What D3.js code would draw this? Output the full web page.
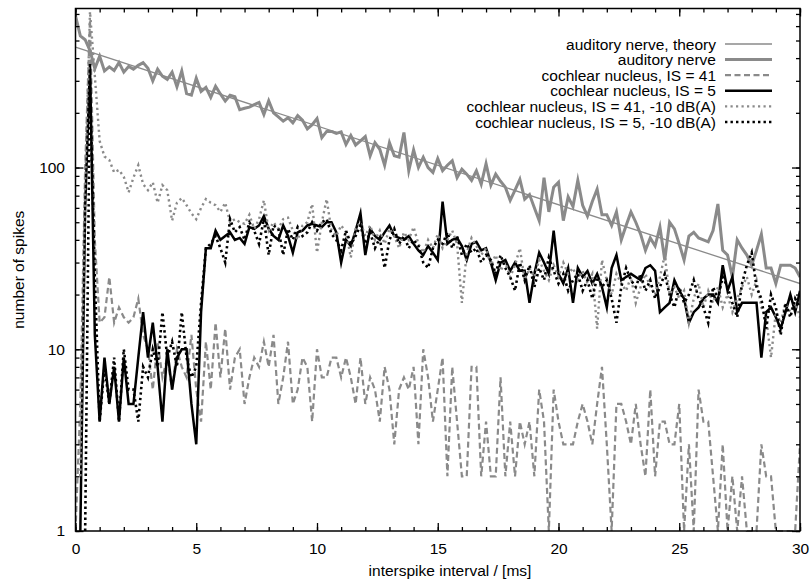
<!DOCTYPE html>
<html>
<head>
<meta charset="utf-8">
<script src="https://cdn.jsdelivr.net/npm/d3@7"></script>
<style>
  html, body { margin: 0; padding: 0; background: #fff; }
  svg { display: block; font-family: "Liberation Sans", Arial, Helvetica, sans-serif; }
</style>
</head>
<body>
<svg id="chart" width="810" height="580"></svg>
<script>
// Interspike-interval histograms, 0.2 ms bins starting at 0 ms (151 bins up to 30 ms).
const binWidthMs = 0.2;

// Exponential fit for the auditory nerve (straight on a log axis): end points.
const theoryT = [0, 30];
const theoryN = [460, 23];

const auditoryNerve = [
  684, 530, 505, 440, 350, 410, 340, 358, 342, 378,
  335, 360, 348, 365, 378, 352, 300, 348, 318, 305,
  335, 278, 340, 255, 250, 310, 262, 276, 243, 280,
  254, 232, 250, 245, 208, 212, 215, 222, 228, 196,
  233, 200, 190, 180, 188, 176, 193, 182, 163, 172,
  186, 146, 158, 158, 154, 157, 134, 150, 133, 140,
  148, 116, 137, 126, 103, 137, 116, 114, 156, 96,
  125, 100, 114, 100, 94, 112, 96, 103, 109, 88,
  98, 92, 85, 96, 81, 105, 80, 92, 84, 78,
  66, 75, 86, 67, 71, 60, 51, 88, 57, 78,
  83, 51, 69, 61, 85, 62, 54, 65, 76, 55,
  55, 48, 57, 40, 48, 57, 50, 43, 35, 41,
  37, 47, 31, 50, 46, 38, 31, 42, 44, 41,
  40, 39, 45, 63, 35, 33, 25, 40, 36, 33,
  29, 35, 43, 28, 28, 23, 29, 29, 29, 28,
  25
];

const cnIS41 = [
  1, 5, 100, 650, 40, 14, 15, 25, 14, 17,
  15, 14, 15, 19, 12, 10, 6, 11, 7, 9,
  6, 10, 8, 7, 12, 6, 4, 11, 6, 14,
  7, 13, 6, 9, 10, 5, 7, 9, 8, 11,
  8, 12, 5, 7, 11, 5, 6, 9, 8, 4,
  10, 7, 7, 9, 9, 7, 9, 7, 5, 9,
  5, 7, 6, 4, 8, 6, 3, 6, 7, 6,
  8, 3, 10, 7, 4, 6, 9, 2, 8, 4,
  2, 2, 8, 8, 2, 4, 2, 2, 7, 2,
  4, 2, 4, 3, 4, 2, 6, 4, 1, 6,
  4, 3, 3, 3, 4, 5, 4, 3, 5, 8,
  3, 1, 5, 5, 4, 3, 5, 3, 2, 6,
  2, 4, 4, 3, 3, 5, 1, 3, 1, 6,
  4, 4, 2, 1, 3, 1, 2, 1, 2, 1,
  1, 1, 3, 2, 2, 1, 1, 1, 1, 1,
  3
];

const cnIS5 = [
  0, 1, 60, 371, 12, 4, 9, 5, 8, 4,
  9, 5, 5, 9, 16, 9, 14, 8, 4, 10,
  6, 9, 10, 10, 5, 3, 16, 36, 36, 45,
  40, 42, 44, 40, 41, 38, 47, 46, 48, 54,
  46, 42, 40, 48, 42, 34, 44, 45, 48, 49,
  48, 47, 50, 50, 44, 30, 40, 37, 45, 56,
  33, 46, 42, 40, 44, 48, 42, 41, 40, 42,
  38, 35, 33, 37, 34, 31, 65, 38, 40, 41,
  37, 31, 38, 39, 35, 36, 30, 24, 30, 31,
  27, 30, 27, 27, 18, 26, 34, 30, 26, 45,
  26, 23, 28, 18, 28, 25, 27, 23, 26, 22,
  17, 28, 33, 24, 25, 26, 25, 24, 28, 29,
  27, 16, 17, 18, 24, 21, 19, 14, 16, 17,
  19, 20, 20, 18, 29, 21, 25, 16, 18, 18,
  18, 18, 9, 16, 17, 15, 13, 16, 20, 16,
  21
];

const cnIS41Minus10 = [
  0, 2, 80, 720, 320, 140, 115, 110, 94, 97,
  89, 73, 88, 103, 81, 75, 83, 64, 80, 75,
  51, 64, 68, 62, 56, 52, 60, 67, 64, 62,
  57, 64, 50, 52, 50, 49, 55, 46, 52, 66,
  45, 50, 46, 52, 53, 45, 40, 48, 50, 63,
  34, 50, 67, 45, 42, 48, 44, 32, 46, 50,
  42, 48, 40, 45, 38, 46, 42, 36, 44, 40,
  47, 38, 34, 40, 36, 43, 36, 40, 45, 38,
  18, 34, 41, 37, 33, 36, 29, 33, 27, 30,
  25, 29, 36, 24, 28, 25, 31, 27, 24, 29,
  25, 30, 26, 28, 24, 27, 23, 26, 13, 31,
  24, 20, 26, 23, 21, 25, 18, 22, 26, 22,
  20, 25, 33, 20, 22, 19, 21, 14, 19, 23,
  17, 21, 18, 22, 17, 20, 16, 19, 22, 25,
  20, 24, 17, 15, 9, 16, 14, 18, 16, 18,
  15
];

const cnIS5Minus10 = [
  0, 0, 1, 300, 25, 4, 8, 5, 9, 4,
  10, 6, 6, 4, 8, 7, 10, 8, 16, 9,
  11, 8, 16, 9, 7, 8, 18, 36, 38, 42,
  36, 30, 52, 44, 47, 40, 50, 45, 38, 52,
  33, 48, 46, 33, 46, 40, 47, 42, 44, 50,
  45, 50, 52, 43, 40, 35, 45, 38, 42, 48,
  38, 44, 36, 41, 28, 40, 46, 38, 42, 36,
  40, 37, 30, 28, 36, 40, 38, 44, 36, 42,
  33, 38, 34, 36, 30, 33, 31, 26, 33, 28,
  25, 21, 30, 24, 29, 22, 28, 24, 32, 27,
  23, 26, 21, 24, 26, 21, 24, 19, 25, 22,
  24, 19, 14, 22, 28, 24, 22, 26, 21, 24,
  19, 22, 26, 20, 17, 22, 18, 20, 24, 19,
  17, 14, 22, 19, 25, 22, 18, 15, 23, 29,
  34, 22, 19, 13, 20, 17, 12, 18, 15, 19,
  17
];

const xTicksMajor = [0, 5, 10, 15, 20, 25, 30];
const yTicksMajor = [1, 10, 100];
const xLabel = "interspike interval / [ms]";
const yLabel = "number of spikes";

// ---- layout ----
const svg = d3.select("#chart");
const plotLeft = 75.5, plotRight = 800, plotTop = 8.5, plotBottom = 531;

const x = d3.scaleLinear().domain([0, 30]).range([plotLeft, plotRight]);
const y = d3.scaleLog().domain([1, 750]).range([plotBottom, plotTop]);

const gray = "#8a8a8a";
const binned = vals => vals.map((v, i) => ({ t: i * binWidthMs, v }));

const series = [
  { label: "auditory nerve, theory", pts: theoryT.map((t, i) => ({ t, v: theoryN[i] })), color: gray, width: 1.3, dash: null },
  { label: "auditory nerve", pts: binned(auditoryNerve), color: gray, width: 3, dash: null },
  { label: "cochlear nucleus, IS = 41", pts: binned(cnIS41), color: gray, width: 2.2, dash: "6,3.5" },
  { label: "cochlear nucleus, IS = 5", pts: binned(cnIS5), color: "#000", width: 2.5, dash: null },
  { label: "cochlear nucleus, IS = 41, -10 dB(A)", pts: binned(cnIS41Minus10), color: gray, width: 2.4, dash: "2.2,3.3" },
  { label: "cochlear nucleus, IS = 5, -10 dB(A)", pts: binned(cnIS5Minus10), color: "#000", width: 2.6, dash: "2.4,3.1" }
];

// clip region for the data lines
svg.append("defs").append("clipPath").attr("id", "plotClip")
  .append("rect").attr("x", plotLeft).attr("y", plotTop - 4)
  .attr("width", plotRight - plotLeft).attr("height", plotBottom - plotTop + 10);

const line = d3.line()
  .defined(d => d.v > 0)
  .x(d => x(d.t))
  .y(d => y(d.v));

const plot = svg.append("g").attr("clip-path", "url(#plotClip)");
series.forEach(s => {
  plot.append("path")
    .datum(s.pts)
    .attr("d", line)
    .attr("fill", "none")
    .attr("stroke", s.color)
    .attr("stroke-width", s.width)
    .attr("stroke-linejoin", "miter")
    .attr("stroke-miterlimit", 6)
    .attr("stroke-dasharray", s.dash);
});

// ---- axes (inward ticks, mirrored on top and right) ----
const xMinor = d3.range(0, 31, 1);
const yMinor = [];
[1, 10, 100].forEach(d => { for (let m = 1; m <= 9; m++) if (d * m <= 750) yMinor.push(d * m); });

function styleAxis(g) {
  g.select(".domain").remove();
  g.selectAll(".tick line").attr("stroke", "#000").attr("stroke-width", 1.3);
  g.selectAll("text").attr("font-size", 15.5).attr("fill", "#000")
    .attr("font-family", "\"Liberation Sans\", Arial, Helvetica, sans-serif");
}

svg.append("g").attr("transform", `translate(0,${plotBottom})`)
  .call(d3.axisBottom(x).tickValues(xMinor).tickSize(-4).tickFormat(""))
  .call(styleAxis);
svg.append("g").attr("transform", `translate(0,${plotBottom})`)
  .call(d3.axisBottom(x).tickValues(xTicksMajor).tickSize(-8).tickPadding(12).tickFormat(d3.format("d")))
  .call(styleAxis);
svg.append("g").attr("transform", `translate(0,${plotTop})`)
  .call(d3.axisTop(x).tickValues(xMinor).tickSize(-4).tickFormat(""))
  .call(styleAxis);
svg.append("g").attr("transform", `translate(0,${plotTop})`)
  .call(d3.axisTop(x).tickValues(xTicksMajor).tickSize(-8).tickFormat(""))
  .call(styleAxis);

svg.append("g").attr("transform", `translate(${plotLeft},0)`)
  .call(d3.axisLeft(y).tickValues(yMinor).tickSize(-4).tickFormat(""))
  .call(styleAxis);
svg.append("g").attr("transform", `translate(${plotLeft},0)`)
  .call(d3.axisLeft(y).tickValues(yTicksMajor).tickSize(-8).tickPadding(10.5).tickFormat(d3.format("d")))
  .call(styleAxis);
svg.append("g").attr("transform", `translate(${plotRight},0)`)
  .call(d3.axisRight(y).tickValues(yMinor).tickSize(-4).tickFormat(""))
  .call(styleAxis);
svg.append("g").attr("transform", `translate(${plotRight},0)`)
  .call(d3.axisRight(y).tickValues(yTicksMajor).tickSize(-8).tickFormat(""))
  .call(styleAxis);

// frame
svg.append("rect")
  .attr("x", plotLeft).attr("y", plotTop)
  .attr("width", plotRight - plotLeft).attr("height", plotBottom - plotTop)
  .attr("fill", "none").attr("stroke", "#000").attr("stroke-width", 1.5);

// axis titles
svg.append("text")
  .attr("x", 450).attr("y", 576)
  .attr("text-anchor", "middle")
  .attr("font-size", 15.5)
  .text(xLabel);
svg.append("text")
  .attr("transform", `translate(24,${(plotTop + plotBottom) / 2}) rotate(-90)`)
  .attr("text-anchor", "middle")
  .attr("font-size", 15.5)
  .text(yLabel);

// ---- legend ----
const legend = svg.append("g");
series.forEach((s, i) => {
  const cy = 44 + i * 15.6;
  legend.append("text")
    .attr("x", 716).attr("y", cy + 5.5)
    .attr("text-anchor", "end")
    .attr("font-size", 15.5)
    .text(s.label);
  legend.append("line")
    .attr("x1", 725).attr("x2", 772)
    .attr("y1", cy).attr("y2", cy)
    .attr("stroke", s.color)
    .attr("stroke-width", s.width)
    .attr("stroke-dasharray", s.dash);
});
</script>
</body>
</html>
